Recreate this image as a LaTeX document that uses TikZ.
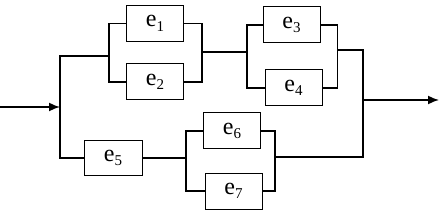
\documentclass[tikz,border=0pt]{standalone}
\usepackage{fontspec}
\setmainfont{Liberation Serif}
\usetikzlibrary{arrows.meta}
\newcommand{\elab}[2]{#1\raisebox{-0.4ex}{\fontsize{15}{15}\selectfont #2}}
\tikzset{
  elem/.style={draw, line width=1pt, minimum width=57pt, minimum height=36pt, inner sep=0pt, font=\fontsize{24}{24}\selectfont},
  wire/.style={line width=1.6pt},
  arr/.style={line width=1.6pt, -{Latex[length=11pt,width=9pt]}}
}
\begin{document}
\begin{tikzpicture}[x=1pt,y=-1pt]
\useasboundingbox (0,0) rectangle (441,216);
\node[elem] (e1) at (155,23.5) {\elab{e}{1}};
\node[elem] (e2) at (155,82) {\elab{e}{2}};
\node[elem] (e3) at (291.5,25) {\elab{e}{3}};
\node[elem] (e4) at (293.5,88) {\elab{e}{4}};
\node[elem, minimum width=58pt, minimum height=35pt] (e5) at (113,158) {\elab{e}{5}};
\node[elem] (e6) at (232,131) {\elab{e}{6}};
\node[elem] (e7) at (233.5,191) {\elab{e}{7}};
\coordinate (in) at (0,107);
\coordinate (j0) at (60,107);
\coordinate (t0) at (60,56);
\coordinate (b1) at (109.5,56);
\coordinate (m1) at (201.5,52);
\coordinate (m2) at (248,52);
\coordinate (r2) at (337,50);
\coordinate (oj) at (363,50);
\coordinate (ob) at (363,157);
\coordinate (r3) at (275,157);
\coordinate (b3) at (186,158);
\coordinate (o0) at (363,100);
\coordinate (out) at (439,100);
% input
\draw[arr] (in) -- (j0);
\draw[wire] (b1) -- (t0) |- (e5.west);
% e1 / e2
\draw[wire] (e1.west) -- ++(-17,0) |- (e2.west);
\draw[wire] (e1.east) -- ++(18,0) |- (e2.east);
\draw[wire] (m1) -- (m2);
% e3 / e4
\draw[wire] (e3.west) -- ++(-15.5,0) |- (e4.west);
\draw[wire] (e3.east) -- ++(17,0) |- (e4.east);
\draw[wire] (r2) -- (oj) -- (ob) -- (r3);
% e5 -> e6 / e7
\draw[wire] (e5.east) -- (b3);
\draw[wire] (e6.west) -- ++(-17,0) |- (e7.west);
\draw[wire] (e6.east) -- ++(14,0) |- (e7.east);
% output
\draw[arr] (o0) -- (out);
\end{tikzpicture}
\end{document}
